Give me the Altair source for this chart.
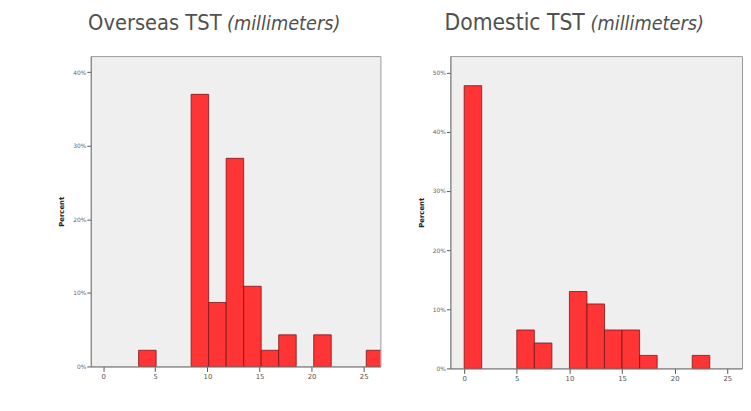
import altair as alt
import pandas as pd

# ---- data ----
overseas_bin_start = [3.40, 8.44, 10.12, 11.80, 13.48, 15.16, 16.84, 20.20, 25.24]
overseas_percent = [2.2, 37.0, 8.7, 28.3, 10.9, 2.2, 4.3, 4.3, 2.2]
overseas_bin_width = 1.68

domestic_bin_start = [0.0, 5.0, 6.67, 10.0, 11.67, 13.33, 15.0, 16.67, 21.67]
domestic_percent = [47.8, 6.5, 4.3, 13.0, 10.9, 6.5, 6.5, 2.2, 2.2]
domestic_bin_width = 1.667

x_ticks = [0, 5, 10, 15, 20, 25]
overseas_y_ticks = [0, 10, 20, 30, 40]
domestic_y_ticks = [0, 10, 20, 30, 40, 50]

titles_main = ["Overseas TST", "Domestic TST"]
title_unit = "(millimeters)"

TITLE_FONT = "Liberation Sans Narrow, DejaVu Sans Condensed, sans-serif"


def panel(starts, pcts, width_bin, xdom, ydom, yticks, w, h, main_title, mx, ux, msize):
    df = pd.DataFrame({
        "start": starts,
        "end": [s + width_bin for s in starts],
        "pct": pcts,
    })
    bars = alt.Chart(df).mark_bar(
        color="#ff3434", stroke="#7a1414", strokeWidth=0.8, clip=True
    ).encode(
        x=alt.X("start:Q",
                scale=alt.Scale(domain=xdom, nice=False, zero=False),
                axis=alt.Axis(values=x_ticks, title=None, grid=False,
                              tickSize=5, tickColor="#555", tickWidth=1,
                              labelFontSize=7, labelColor="#555", labelPadding=1,
                              domainColor="#808080", labelFont="DejaVu Sans")),
        x2="end:Q",
        y=alt.Y("pct:Q",
                scale=alt.Scale(domain=ydom, nice=False),
                axis=alt.Axis(values=yticks, title="Percent", grid=False,
                              labelExpr="datum.value + '%'",
                              tickSize=4, tickColor="#555", labelFontSize=6,
                              labelColor="#666", labelPadding=1,
                              domainColor="#808080", labelFont="DejaVu Sans",
                              titleFont="DejaVu Sans", titleFontSize=7,
                              titleFontWeight="bold", titleColor="#222",
                              titlePadding=8)),
        y2=alt.datum(0),
    )
    t1 = alt.Chart(pd.DataFrame({"t": [main_title]})).mark_text(
        align="left", baseline="alphabetic", font=TITLE_FONT, fontSize=msize,
        color="#505050"
    ).encode(x=alt.value(mx), y=alt.value(-26.5), text="t:N")
    t2 = alt.Chart(pd.DataFrame({"t": [title_unit]})).mark_text(
        align="left", baseline="alphabetic", font=TITLE_FONT, fontSize=20,
        fontStyle="italic", color="#505050"
    ).encode(x=alt.value(ux), y=alt.value(-26.5), text="t:N")
    return alt.layer(bars, t1, t2).properties(width=w, height=h)


left = panel(overseas_bin_start, overseas_percent, overseas_bin_width,
             [-1.19, 26.6], [0, 42.2], overseas_y_ticks, 294, 315,
             titles_main[0], -2.7, 138.3, 22)
right = panel(domestic_bin_start, domestic_percent, domestic_bin_width,
              [-1.31, 26.4], [0, 52.8], domestic_y_ticks, 296, 317,
              titles_main[1], -6.0, 142.3, 23)

chart = alt.hconcat(left, right, spacing=71, bounds="flush").properties(
    padding={"left": 50, "top": 1, "right": 0, "bottom": 0},
    background="white",
).configure_view(
    fill="#efefef", stroke="#9a9a9a", strokeWidth=1
)

chart.save("out.html", embed_options={"renderer": "svg", "actions": False})
